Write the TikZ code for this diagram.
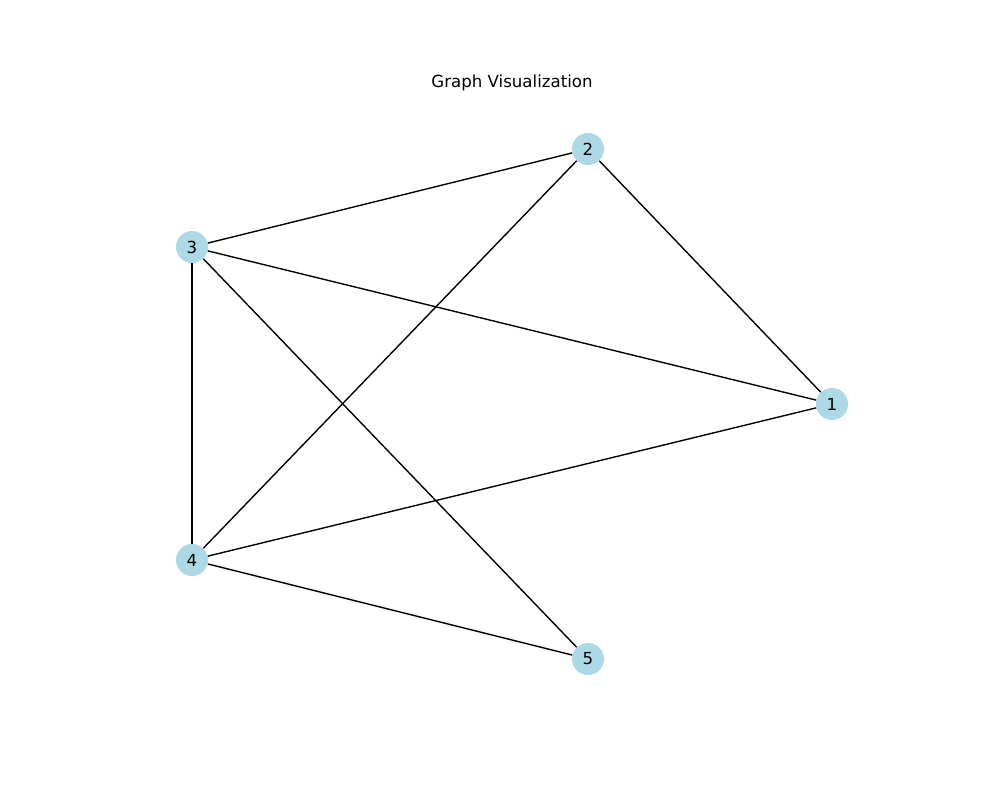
\documentclass[tikz,border=0pt]{standalone}
\usepackage{fontspec}
\setmainfont{DejaVu Sans}
\definecolor{lightblue}{RGB}{173,216,230}
\begin{document}
\begin{tikzpicture}[x=0.01in, y=-0.01in, font=\fontsize{12}{14}\selectfont,
  vertex/.style={circle, fill=lightblue, minimum size=0.32in, inner sep=0pt},
  edge/.style={line width=1pt, black}]
  \useasboundingbox (0,0) rectangle (1000,800);
  % Title
  \node (title) at (512,83) {Graph Visualization};

  % Vertices
  \node[vertex] (v1) at (832,404) {1};
  \node[vertex] (v2) at (588,149) {2};
  \node[vertex] (v3) at (192,247) {3};
  \node[vertex] (v4) at (192,560) {4};
  \node[vertex] (v5) at (588,659) {5};

  % Edges
  \foreach \a/\b in {3/2, 2/1, 3/1, 2/4, 3/4, 3/5, 4/1, 4/5}
    \draw[edge] (v\a) -- (v\b);
\end{tikzpicture}
\end{document}
